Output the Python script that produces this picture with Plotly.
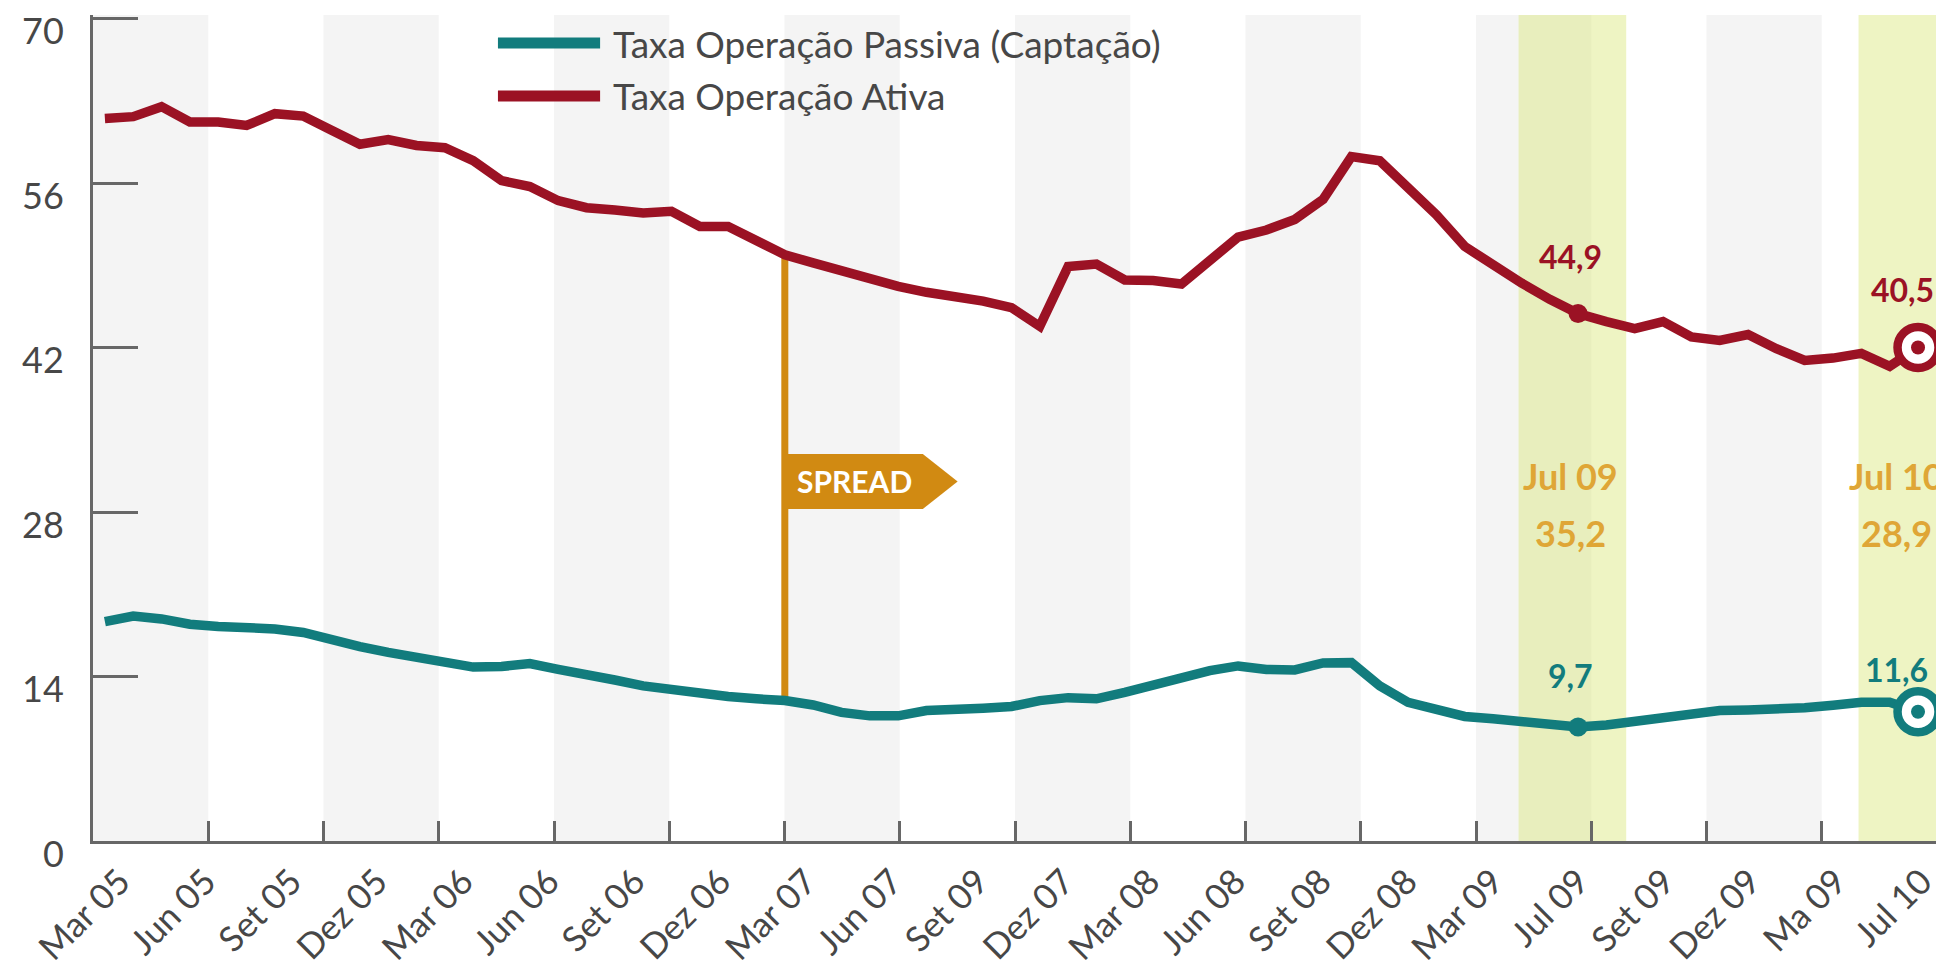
import plotly.graph_objects as go
import numpy as np

# ---------------- data ----------------
month_idx = list(range(65))  # Mar 05 .. Jul 10, monthly

tick_labels = ["Mar 05", "Jun 05", "Set 05", "Dez 05", "Mar 06", "Jun 06", "Set 06",
               "Dez 06", "Mar 07", "Jun 07", "Set 09", "Dez 07", "Mar 08", "Jun 08",
               "Set 08", "Dez 08", "Mar 09", "Jul 09", "Set 09", "Dez 09", "Ma 09", "Jul 10"]

taxa_ativa = [61.5, 61.65, 62.5, 61.2, 61.2, 60.9, 61.9, 61.7, 60.5, 59.3,
              59.7, 59.2, 59.0, 57.9, 56.2, 55.7, 54.5, 53.9, 53.7, 53.45,
              53.6, 52.3, 52.3, 51.1, 49.9, 49.2, 48.5, 47.8, 47.2, 46.7,
              46.35, 45.95, 45.4, 43.8, 48.9, 49.1, 47.75, 47.7, 47.4, 49.45,
              51.4, 52.0, 52.9, 54.6, 58.25, 57.9, 55.6, 53.3, 50.6, 49.0,
              47.5, 46.1, 44.9, 44.2, 43.6, 44.2, 42.9, 42.6, 43.1, 41.9,
              40.9, 41.1, 41.5, 40.4, 42.0]

taxa_passiva = [18.67, 19.15, 18.9, 18.45, 18.26, 18.2, 18.05, 17.75, 17.1, 16.55,
                16.05, 15.6, 15.1, 14.8, 14.85, 15.1, 14.6, 14.25, 13.7, 13.2,
                12.85, 12.5, 12.3, 12.1, 11.95, 11.58, 10.95, 10.65, 10.65, 11.1,
                11.3, 11.3, 11.45, 11.95, 12.2, 12.1, 12.65, 13.3, 13.95, 14.5,
                14.9, 14.6, 14.56, 15.15, 15.18, 13.2, 11.8, 11.2, 10.6, 10.4,
                10.2, 9.95, 9.7, 9.87, 10.15, 10.55, 10.85, 11.1, 11.15, 11.15,
                11.35, 11.55, 11.8, 11.8, 11.0]

name_passiva = "Taxa Operação Passiva (Captação)"
name_ativa = "Taxa Operação Ativa"

spread_idx = 24                      # Mar 07
highlight_idx = [52, 64]             # Jul 09, Jul 10
highlight_names = ["Jul 09", "Jul 10"]
highlight_ativa = [44.9, 40.5]
highlight_passiva = [9.7, 11.6]
highlight_spread = [35.2, 28.9]

y_ticks = [0, 14, 28, 42, 56, 70]

# ---------------- styles ----------------
RED = "#9B1224"
TEAL = "#127C7D"
ORANGE = "#D18A12"
GOLD = "#DFA636"
AXIS = "#676767"
TXT = "#474747"
FONT = "Lato"

x_lo, x_hi = -0.42, 64.67
n_bands = 16
tick_pos = list(np.linspace(x_lo, x_hi, n_bands + 1))
label_pos = list(np.linspace(0, 63.6, len(tick_labels)))

def fmt(v):
    return f"{v:.1f}".replace(".", ",")

fig = go.Figure()

# alternating background bands
for k in range(0, n_bands, 2):
    fig.add_shape(type="rect", xref="x domain", yref="y domain",
                  x0=k / n_bands, x1=(k + 1) / n_bands, y0=0, y1=1,
                  fillcolor="#F4F4F4", line_width=0, layer="below")
# highlight bands
for hi in highlight_idx:
    fig.add_shape(type="rect", xref="x", yref="y domain",
                  x0=hi - 2.1, x1=hi + 1.7, y0=0, y1=1,
                  fillcolor="rgba(214,228,112,0.42)", line_width=0, layer="below")

# spread line
fig.add_trace(go.Scatter(x=[month_idx[spread_idx]] * 2,
                         y=[taxa_passiva[spread_idx], taxa_ativa[spread_idx]],
                         mode="lines", line=dict(color=ORANGE, width=7),
                         showlegend=False, hoverinfo="skip"))

fig.add_trace(go.Scatter(x=month_idx, y=taxa_passiva, mode="lines", name=name_passiva,
                         line=dict(color=TEAL, width=9.5), showlegend=False))
fig.add_trace(go.Scatter(x=month_idx, y=taxa_ativa, mode="lines", name=name_ativa,
                         line=dict(color=RED, width=9.5), showlegend=False))

# highlight markers
for series, col in [(taxa_ativa, RED), (taxa_passiva, TEAL)]:
    fig.add_trace(go.Scatter(x=[month_idx[highlight_idx[0]]], y=[series[highlight_idx[0]]],
                             mode="markers", marker=dict(size=19, color=col),
                             showlegend=False, cliponaxis=False, hoverinfo="skip"))
    fig.add_trace(go.Scatter(x=[month_idx[highlight_idx[1]]], y=[series[highlight_idx[1]]],
                             mode="markers",
                             marker=dict(size=41, color="white", line=dict(color=col, width=8.5)),
                             showlegend=False, cliponaxis=False, hoverinfo="skip"))
    fig.add_trace(go.Scatter(x=[month_idx[highlight_idx[1]]], y=[series[highlight_idx[1]]],
                             mode="markers", marker=dict(size=14, color=col),
                             showlegend=False, cliponaxis=False, hoverinfo="skip"))

# dummy trace for label axis
fig.add_trace(go.Scatter(x=label_pos, y=[None] * len(label_pos), xaxis="x2",
                         mode="lines", showlegend=False, hoverinfo="skip"))

# value annotations
shifts_a = [(-8, 57), (-16, 58)]
shifts_p = [(-8, 52), (-22, 42)]
for i, hi in enumerate(highlight_idx):
    fig.add_annotation(x=hi, y=taxa_ativa[hi], text=f"<b>{fmt(highlight_ativa[i])}</b>",
                       showarrow=False, xshift=shifts_a[i][0], yshift=shifts_a[i][1],
                       font=dict(family=FONT, size=32, color=RED))
    fig.add_annotation(x=hi, y=taxa_passiva[hi], text=f"<b>{fmt(highlight_passiva[i])}</b>",
                       showarrow=False, xshift=shifts_p[i][0], yshift=shifts_p[i][1],
                       font=dict(family=FONT, size=32, color=TEAL))
    xs = -8 if i == 0 else -22
    fig.add_annotation(x=hi, y=31.1, text=f"<b>{highlight_names[i]}</b>", showarrow=False,
                       xshift=xs, font=dict(family=FONT, size=36, color=GOLD))
    fig.add_annotation(x=hi, y=26.2, text=f"<b>{fmt(highlight_spread[i])}</b>", showarrow=False,
                       xshift=xs, font=dict(family=FONT, size=36, color=GOLD))

# SPREAD banner
bx0 = month_idx[spread_idx]
bx1, bxt = bx0 + 4.87, bx0 + 6.1
by0, by1 = 28.26, 32.94
fig.add_shape(type="path", xref="x", yref="y",
              path=f"M {bx0},{by0} L {bx1},{by0} L {bxt},{(by0 + by1) / 2} L {bx1},{by1} L {bx0},{by1} Z",
              fillcolor=ORANGE, line_width=0, layer="above")
fig.add_annotation(x=bx0 + 2.45, y=(by0 + by1) / 2, text="<b>SPREAD</b>", showarrow=False,
                   font=dict(family=FONT, size=30, color="white"))

# manual legend
for yy, col, nm in [(0.966, TEAL, name_passiva), (0.902, RED, name_ativa)]:
    fig.add_shape(type="line", xref="paper", yref="paper", x0=0.2196, x1=0.275, y0=yy, y1=yy,
                  line=dict(color=col, width=11))
    fig.add_annotation(xref="paper", yref="paper", x=0.281, y=yy, text=nm, showarrow=False,
                       xanchor="left", yanchor="middle",
                       font=dict(family=FONT, size=37, color=TXT))

fig.update_layout(
    template="none",
    width=1936, height=961,
    margin=dict(l=85, r=7, t=7, b=128, pad=0),
    paper_bgcolor="white", plot_bgcolor="white",
    showlegend=False,
    font=dict(family=FONT, color=TXT),
    xaxis=dict(range=[x_lo, x_hi], tickmode="array", tickvals=tick_pos, showticklabels=False,
               ticks="inside", ticklen=20, tickwidth=3, tickcolor=AXIS,
               showline=True, linecolor=AXIS, linewidth=3, showgrid=False, zeroline=False,
               automargin=False),
    xaxis2=dict(range=[x_lo, x_hi], overlaying="x", anchor="y", side="bottom",
                tickmode="array", tickvals=label_pos, ticktext=tick_labels, tickangle=-45,
                tickfont=dict(family=FONT, size=35, color=TXT), ticks="", ticklabelstandoff=12,
                ticklabelshift=15, ticklabeloverflow="allow",
                showline=False, showgrid=False, zeroline=False, automargin=False),
    yaxis=dict(range=[0, 70.3], tickmode="array", tickvals=y_ticks,
               ticks="inside", ticklen=45, tickwidth=3, tickcolor=AXIS,
               showline=True, linecolor=AXIS, linewidth=3, showgrid=False, zeroline=False,
               tickfont=dict(family=FONT, size=36, color=TXT),
               ticklabelshift=13, ticklabelstandoff=19, automargin=False),
)

fig.write_html("out.html")
